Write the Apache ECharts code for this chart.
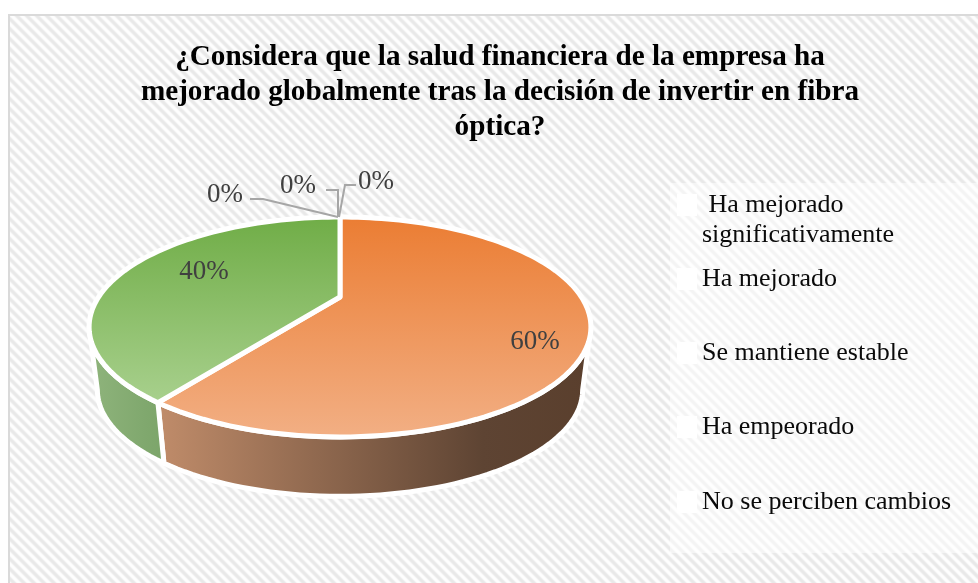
<!DOCTYPE html>
<html><head><meta charset="utf-8">
<style>html,body{margin:0;padding:0;background:#fff}#c{width:978px;height:583px}</style>
<script src="https://cdn.jsdelivr.net/npm/echarts@6/dist/echarts.min.js"></script>
</head><body><div id="c"></div>
<script>
const chartTitle = '¿Considera que la salud financiera de la empresa ha\nmejorado globalmente tras la decisión de invertir en fibra\nóptica?';
const categories = ['Ha mejorado significativamente','Ha mejorado','Se mantiene estable','Ha empeorado','No se perciben cambios'];
const percentValues = [0, 60, 40, 0, 0];

const SERIF = '"Liberation Serif","Times New Roman",serif';
const PIE = {cx:340, cy:297, R:241.4, B:101.8, k:0.2727, wallScale:0.967, wallCy:361};
const topColors = {1:['#EB7D33','#F2AF84'], 2:['#70AD47','#A8D08D']};
const wallColors = {1:['#C08C6A','#5E4433','#5A3F2D'], 2:['#8FB47C','#80A86E','#7CA56A']};
const labelAt = {1:[535,342], 2:[204,272], 0:[376,182], 3:[225,195], 4:[298,186]};
const leaders = {
  0:[[356,185],[345,185],[339,217]],
  3:[[250,199],[263,199],[338,217]],
  4:[[326,190],[338,190],[338,217]]
};
const legendTops = [160, 264, 338, 412, 487];

// stripes
const PERIOD = 10;
const pat = document.createElement('canvas'); pat.width = PERIOD; pat.height = PERIOD;
(function(){
  const g = pat.getContext('2d'), im = g.createImageData(PERIOD,PERIOD);
  const tone = [233,232,233,238,248,253,254,253,248,238];
  for (let y=0;y<PERIOD;y++) for (let x=0;x<PERIOD;x++){
    const v = tone[((x-y)%PERIOD+PERIOD)%PERIOD], i=(y*PERIOD+x)*4;
    im.data[i]=im.data[i+1]=im.data[i+2]=v; im.data[i+3]=255;
  }
  g.putImageData(im,0,0);
})();

// cumulative start/end of each slice, on the 0..100 angle axis
const cum = [];
percentValues.reduce((a,v,i)=>{cum[i]=[a,a+v];return a+v;},0);

const project = (p, wall) => {
  const u=(p[0]-PIE.cx)/PIE.R, v=(p[1]-PIE.cy)/PIE.R, d=1-PIE.k*v;
  const s=wall?PIE.wallScale:1, yc=wall?PIE.wallCy:PIE.cy;
  return [PIE.cx+s*PIE.R*u/d, yc+s*PIE.B*v/d];
};
const horizonT = Math.acos(-PIE.k)/Math.PI*50; // 0..50 scale of the widest point

function renderSlice(params, api){
  const i = params.seriesIndex, a = api.value(0), b = api.value(1);
  const children = [];
  const lab = labelAt[i];
  if (b > a){
    const pts=[], step=0.5;
    const edge=(t,wall)=>project(api.coord([1,t]),wall);
    for(let t=a;t<b;t+=step) pts.push(edge(t,false));
    pts.push(edge(b,false));
    const ys=pts.map(p=>p[1]);
    const w0=Math.max(a,horizonT), w1=Math.min(b,100-horizonT);
    if(w1>w0){
      const wp=[];
      for(let t=w0;t<w1;t+=step) wp.push(edge(t,false));
      wp.push(edge(w1,false));
      for(let t=w1;t>w0;t-=step) wp.push(edge(t,true));
      wp.push(edge(w0,true));
      const xs=wp.map(p=>p[0]), x0=Math.min(...xs), x1=Math.max(...xs);
      children.push({type:'polygon',z2:1,silent:true,shape:{points:wp},style:{
        fill:{type:'linear',x:x0,y:0,x2:x1,y2:0,global:true,colorStops:[{offset:0,color:wallColors[i][0]},{offset:0.75,color:wallColors[i][1]},{offset:1,color:wallColors[i][2]}]},
        stroke:'#fff',lineWidth:5,lineJoin:'round'}});
    }
    const top=[project(api.coord([0,a]),false),...pts];
    const y0=Math.min(...ys,PIE.cy), y1=Math.max(...ys,PIE.cy);
    children.push({type:'polygon',z2:5,silent:true,shape:{points:top},style:{
      fill:{type:'linear',x:0,y:y0,x2:0,y2:y1,global:true,colorStops:[{offset:0,color:topColors[i][0]},{offset:1,color:topColors[i][1]}]},
      stroke:'#fff',lineWidth:5,lineJoin:'round'}});
  } else {
    children.push({type:'polyline',z2:6,silent:true,shape:{points:leaders[i]},style:{fill:null,stroke:'#A6A6A6',lineWidth:2}});
  }
  children.push({type:'text',z2:8,silent:true,x:lab[0],y:lab[1],style:{
    text:Math.round(b-a)+'%',font:'27px '+SERIF,fill:'#404040',align:'center',verticalAlign:'middle'}});
  return {type:'group',children};
}

const legendBase = {orient:'vertical',left:677,padding:0,itemWidth:20,itemHeight:22,itemGap:0,
  icon:'rect',itemStyle:{color:'#FFFFFF',opacity:0.95},selectedMode:false,
  textStyle:{fontFamily:SERIF,fontSize:26,color:'#0a0a0a',lineHeight:30}};

const option = {
  animation:false,
  backgroundColor:'#fff',
  graphic:[
    {type:'rect',z:-10,silent:true,shape:{x:9,y:15,width:975,height:575},style:{fill:{image:pat,repeat:'repeat'},stroke:'#DADADA',lineWidth:2}},
    {type:'rect',z:-9,silent:true,shape:{x:670,y:183,width:308,height:370},style:{fill:'rgba(255,255,255,0.5)'}}
  ],
  title:{text:chartTitle,left:500,top:40,padding:0,textAlign:'center',
    textStyle:{fontFamily:SERIF,fontSize:29.2,fontWeight:'bold',color:'#000',lineHeight:35}},
  polar:{center:[PIE.cx,PIE.cy],radius:[0,PIE.R]},
  angleAxis:{type:'value',min:0,max:100,startAngle:90,clockwise:true,show:false},
  radiusAxis:{type:'value',min:0,max:1,show:false},
  legend:categories.map((c,i)=>Object.assign({},legendBase,{
    data:[c],top:legendTops[i],
    formatter:n=> i===0 ? '\n Ha mejorado\nsignificativamente' : n})),
  series:categories.map((c,i)=>({
    name:c,type:'custom',coordinateSystem:'polar',silent:true,clip:false,
    itemStyle:{color:(topColors[i]||['#fff'])[0]},
    renderItem:renderSlice,
    encode:{radius:-1,angle:[0,1]},
    data:[cum[i]]
  }))
};
const chart = echarts.init(document.getElementById('c'),null,{renderer:'canvas'});
chart.setOption(option);
</script></body></html>
